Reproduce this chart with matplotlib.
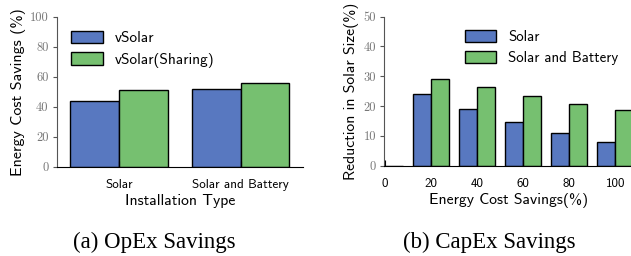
import numpy as np
import matplotlib
matplotlib.use('Agg')
import matplotlib.pyplot as plt

# OpEx panel data
install_types = ['Solar', 'Solar and Battery']
opex_vsolar = [44, 52]
opex_sharing = [51, 56]

# CapEx panel data
savings_labels = ['0', '20', '40', '60', '80', '100']
capex_solar = [0, 24, 19, 14.6, 11, 7.8]
capex_battery = [0, 29.2, 26.4, 23.4, 20.8, 18.6]

blue = '#5878c0'
green = '#76c070'
sans = 'cmss10'
serif = 'cmr10'

fig = plt.figure(figsize=(6.31, 2.56), dpi=100)
ax1 = fig.add_axes([0.090, 0.348, 0.390, 0.586])
ax2 = fig.add_axes([0.609, 0.353, 0.395, 0.582])


def style(ax):
    for s in ['top', 'right']:
        ax.spines[s].set_visible(False)
    ax.spines['left'].set_color('#555555')
    ax.spines['bottom'].set_color('black')
    ax.tick_params(axis='y', direction='out', length=3, color='#555555',
                   labelcolor='#777777', labelsize=9, pad=3)
    ax.tick_params(axis='x', direction='in', length=4, labelsize=9.4, pad=9)
    for t in ax.get_yticklabels():
        t.set_fontfamily(serif)


w = 0.4
ind = np.arange(len(install_types))
ax1.bar(ind - w / 2, opex_vsolar, w, color=blue, edgecolor='black', lw=1, label='vSolar')
ax1.bar(ind + w / 2, opex_sharing, w, color=green, edgecolor='black', lw=1, label='vSolar(Sharing)')
ax1.set_xlim(-0.51, 1.51)
ax1.set_ylim(0, 100)
ax1.set_yticks(np.arange(0, 101, 20))
ax1.set_xticks(ind)
ax1.set_xticklabels(install_types, family=sans)
style(ax1)
ax1.set_xlabel('Installation Type', family=sans, fontsize=11.3, labelpad=2)
ax1.set_ylabel('Energy Cost Savings (%)', family=sans, fontsize=11.5, labelpad=3)
ax1.legend(loc='upper left', bbox_to_anchor=(0.0, 1.0), frameon=False,
           prop={'family': sans, 'size': 11}, handlelength=2.1, handleheight=0.9,
           labelspacing=0.45)

ind2 = np.arange(len(savings_labels))
ax2.bar(ind2 - w / 2, capex_solar, w, color=blue, edgecolor='black', lw=1, label='Solar')
ax2.bar(ind2 + w / 2, capex_battery, w, color=green, edgecolor='black', lw=1, label='Solar and Battery')
ax2.set_xlim(-0.015, 5.4)
ax2.set_ylim(0, 50)
ax2.set_yticks(np.arange(0, 51, 10))
ax2.set_xticks(ind2)
ax2.set_xticklabels(savings_labels, family=sans)
style(ax2)
ax2.set_xlabel('Energy Cost Savings(%)', family=sans, fontsize=11.3, labelpad=2)
ax2.set_ylabel('Reduction in Solar Size(%)', family=sans, fontsize=11.3, labelpad=3)
ax2.legend(loc='upper left', bbox_to_anchor=(0.27, 1.0), frameon=False,
           prop={'family': sans, 'size': 10.7}, handlelength=2.1, handleheight=0.9,
           labelspacing=0.45)

fig.text(0.245, 0.03, '(a) OpEx Savings', family='Liberation Serif', fontsize=16.5, ha='center')
fig.text(0.775, 0.03, '(b) CapEx Savings', family='Liberation Serif', fontsize=16.5, ha='center')

fig.savefig('out.png', dpi=100)
